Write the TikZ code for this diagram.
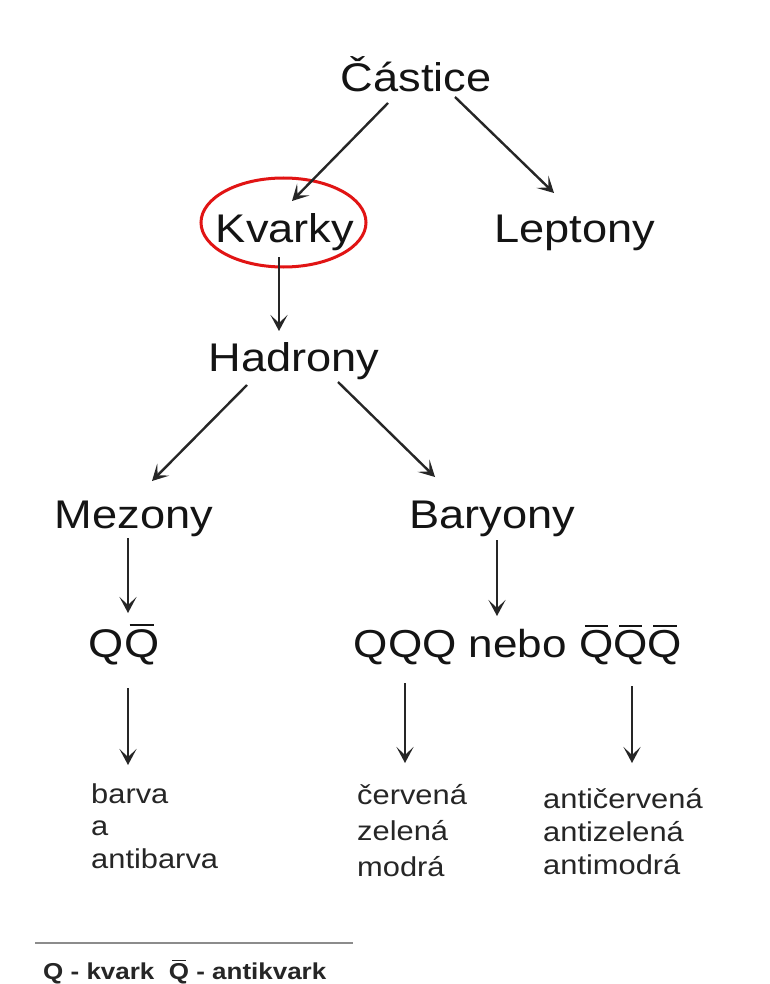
\documentclass[tikz,border=0pt]{standalone}
\usepackage{fontspec}
\setmainfont{Liberation Sans}[FakeStretch=1.13]
\usetikzlibrary{arrows.meta}
\newcommand\qbr{\leavevmode\hbox{\setbox0\hbox{Q}\rlap{\kern0.16\wd0\raisebox{\dimexpr\ht0+0.07em\relax}{\rule{0.68\wd0}{0.06em}}}Q}}
\begin{document}
\begin{tikzpicture}[x=1pt,y=-1pt,
  lbl/.style={font=\fontsize{40}{44}\selectfont, text=black!92, inner sep=0pt, anchor=base},
  small/.style={text=black!85, inner sep=0pt, anchor=base west, align=left},
  arr/.style={draw=black!85, line width=2.4pt, -{Stealth[length=16pt,width=17pt,inset=8pt]}},
]
\useasboundingbox[fill=white] (0,0) rectangle (769,984);

% main labels
\node[lbl] (cas) at (416,92) {Částice};
\node[lbl] (kv)  at (285,242) {Kvarky};
\node[lbl] (lep) at (575,242) {Leptony};
\node[lbl] (had) at (294,371) {Hadrony};
\node[lbl] (mez) at (134,528) {Mezony};
\node[lbl] (bar) at (492,528) {Baryony};
\node[lbl] (qq)  at (124,657) {Q\qbr};
\node[lbl, font=\fontsize{39}{44}\selectfont] (qqq) at (518,657) {QQQ nebo \qbr\qbr\qbr};

% small labels (base anchor = last line)
\node[small, font=\fontsize{27.3}{32.5}\selectfont] (barva) at (91,868) {barva\\a\\antibarva};
\node[small, font=\fontsize{27.3}{36}\selectfont] (cerv) at (357,876) {červená\\zelená\\modrá};
\node[small, font=\fontsize{27.3}{33}\selectfont] (anti) at (543,874) {antičervená\\antizelená\\antimodrá};

% highlight ellipse
\draw[draw={rgb,255:red,225;green,20;blue,20}, line width=3pt] (283.5,222.5) ellipse [x radius=82.5, y radius=44.5];

% arrow end points
\coordinate (c1) at (388,103); \coordinate (k1) at (292,201);
\coordinate (c2) at (455,97);  \coordinate (l1) at (554,193);
\coordinate (k2) at (279,257); \coordinate (h1) at (279,331);
\coordinate (h2) at (247,385); \coordinate (m1) at (152,481);
\coordinate (h3) at (338,382); \coordinate (b1) at (435,477);
\coordinate (m2) at (128,538); \coordinate (q1) at (128,613);
\coordinate (b2) at (497,540); \coordinate (q2) at (497,616);
\coordinate (q3) at (128,688); \coordinate (s1) at (128,765);
\coordinate (q4) at (405,683); \coordinate (s2) at (405,763);
\coordinate (q5) at (632,686); \coordinate (s3) at (632,763);

\draw[arr] (c1) -- (k1);
\draw[arr] (c2) -- (l1);
\draw[arr] (k2) -- (h1);
\draw[arr] (h2) -- (m1);
\draw[arr] (h3) -- (b1);
\draw[arr] (m2) -- (q1);
\draw[arr] (b2) -- (q2);
\draw[arr] (q3) -- (s1);
\draw[arr] (q4) -- (s2);
\draw[arr] (q5) -- (s3);

% footer
\coordinate (f1) at (35,943); \coordinate (f2) at (353,943);
\draw[draw=black!45, line width=2.5pt] (f1) -- (f2);
\node[inner sep=0pt, anchor=base west, text=black!85, font=\fontsize{23}{27}\selectfont\bfseries] (legend) at (43,979) {Q - kvark\ \ \qbr\ - antikvark};
\end{tikzpicture}
\end{document}
